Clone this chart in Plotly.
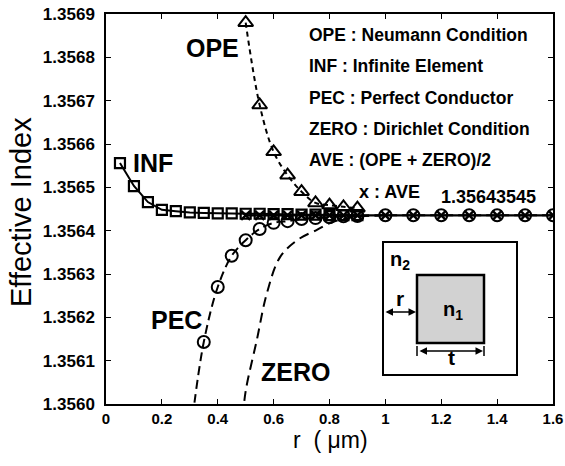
import plotly.graph_objects as go

# ---------------- data ----------------
inf_r = [0.05, 0.10, 0.15, 0.20, 0.25, 0.30, 0.35, 0.40, 0.45, 0.50, 0.55, 0.60,
         0.65, 0.70, 0.75, 0.80, 0.85, 0.90]
inf_n = [1.356556, 1.356503, 1.356466, 1.356448, 1.356445, 1.356442, 1.356441,
         1.356440, 1.356440, 1.356439, 1.356439, 1.356438, 1.356438, 1.356437,
         1.356437, 1.356436, 1.356436, 1.356436]

ope_r = [0.50, 0.55, 0.60, 0.65, 0.70, 0.75, 0.80, 0.85, 0.90]
ope_n = [1.356880, 1.356690, 1.356582, 1.356528, 1.356490, 1.356464, 1.356459,
         1.356455, 1.356452]

pec_line_r = [0.31, 0.35, 0.40, 0.45, 0.50, 0.55, 0.60, 0.65, 0.70, 0.75, 0.80,
              0.85, 0.90, 1.0, 1.1, 1.2, 1.3, 1.4, 1.5, 1.6]
pec_line_n = [1.355970, 1.356143, 1.356270, 1.356342, 1.356378, 1.356404, 1.356418,
              1.356422, 1.356427, 1.356429, 1.356431, 1.356433, 1.356434, 1.3564355,
              1.3564355, 1.3564355, 1.3564355, 1.3564355, 1.3564355, 1.3564355]

zero_r = [0.49, 0.50, 0.54, 0.576, 0.623, 0.684, 0.755, 0.81, 0.90, 1.0]
zero_n = [1.355970, 1.356030, 1.356148, 1.356256, 1.356339, 1.356378, 1.356402,
          1.356420, 1.356432, 1.3564355]

ave_r = [0.50, 0.55, 0.60, 0.65, 0.70, 0.75, 0.80, 0.85, 0.90,
         1.0, 1.1, 1.2, 1.3, 1.4, 1.5, 1.6]
ave_n = [1.3564355] * len(ave_r)

x_ticks = [0, 0.2, 0.4, 0.6, 0.8, 1.0, 1.2, 1.4, 1.6]
x_tick_text = ["0", "0.2", "0.4", "0.6", "0.8", "1", "1.2", "1.4", "1.6"]
y_ticks = [1.3560, 1.3561, 1.3562, 1.3563, 1.3564, 1.3565, 1.3566, 1.3567, 1.3568, 1.3569]

legend_lines = ["OPE : Neumann Condition", "INF : Infinite Element",
                "PEC : Perfect Conductor", "ZERO : Dirichlet Condition",
                "AVE : (OPE + ZERO)/2"]

FONT = "Liberation Sans, Arial, sans-serif"
BLACK = "black"

fig = go.Figure()

# ZERO dash line
fig.add_trace(go.Scatter(x=zero_r, y=zero_n, mode="lines", line_shape="spline",
                         line=dict(color=BLACK, width=2, dash="10px,6px"),
                         hoverinfo="skip"))
# PEC
fig.add_trace(go.Scatter(x=pec_line_r, y=pec_line_n, mode="lines+markers", line_shape="spline",
                         line=dict(color=BLACK, width=2, dash="9px,5px"),
                         marker=dict(symbol="circle-open", size=12, color=BLACK,
                                     line=dict(width=2, color=BLACK)),
                         hoverinfo="skip"))
# OPE
fig.add_trace(go.Scatter(x=ope_r, y=ope_n, mode="lines+markers", line_shape="spline",
                         line=dict(color=BLACK, width=2, dash="5px,4px"),
                         marker=dict(symbol="triangle-up-open", size=13, color=BLACK,
                                     line=dict(width=2, color=BLACK)),
                         hoverinfo="skip"))
# AVE
fig.add_trace(go.Scatter(x=ave_r, y=ave_n, mode="lines+markers",
                         line=dict(color=BLACK, width=2.2),
                         marker=dict(symbol="x-thin-open", size=9, color=BLACK,
                                     line=dict(width=2.4, color=BLACK)),
                         hoverinfo="skip"))
# INF
fig.add_trace(go.Scatter(x=inf_r, y=inf_n, mode="lines+markers",
                         line=dict(color=BLACK, width=2),
                         marker=dict(symbol="square-open", size=10, color=BLACK,
                                     line=dict(width=2.2, color=BLACK)),
                         hoverinfo="skip"))

# ---------- layout helpers (pixel -> paper) ----------
L, R, T, B = 106, 553, 14, 404
def px(xp):
    return (xp - L) / (R - L)
def py(yp):
    return (B - yp) / (B - T)

ann = []
def label(text, x, y, size, bold=True, xanchor="center", angle=0):
    ann.append(dict(text=f"<b>{text}</b>" if bold else text, x=px(x), y=py(y),
                    xref="paper", yref="paper", showarrow=False, xanchor=xanchor,
                    yanchor="middle", textangle=angle,
                    font=dict(family=FONT, size=size, color=BLACK)))

label("OPE", 212, 48, 25)
label("INF", 153, 163, 25)
label("PEC", 176, 320, 25)
label("ZERO", 295, 372, 25)
for i, t in enumerate(legend_lines):
    label(t, 307, 35 + i * 31.3, 17.5, xanchor="left")
label("x : AVE", 357, 192, 18, xanchor="left")
label("1.35643545", 439, 197, 18, xanchor="left")

# inset labels
label("n<sub>2</sub>", 400, 260, 20)
label("r", 400, 298, 21)
label("n<sub>1</sub>", 453, 310, 20)
label("t", 451, 357, 21)

# axis titles
label("Effective Index", 21, 212, 29, bold=False, angle=-90)
label("r  ( \u03bcm)", 330, 440, 23, bold=False)

# arrows in inset (data coords)
def dx(xp):
    return (xp - L) / (R - L) * 1.6
def dy(yp):
    return 1.3560 + (B - yp) / (B - T) * 0.0009

for (x0, x1, yy) in [(384, 416, 312), (418, 483, 351)]:
    ann.append(dict(x=dx(x1), y=dy(yy), ax=dx(x0), ay=dy(yy), xref="x", yref="y",
                    axref="x", ayref="y", text="", showarrow=True, arrowhead=2,
                    arrowside="end+start", arrowsize=1, arrowwidth=1.5, arrowcolor=BLACK))

shapes = [
    dict(type="rect", xref="paper", yref="paper", x0=px(383), x1=px(517), y0=py(375), y1=py(242),
         line=dict(color=BLACK, width=2), fillcolor="white", layer="above"),
    dict(type="rect", xref="paper", yref="paper", x0=px(417), x1=px(484), y0=py(343), y1=py(275),
         line=dict(color=BLACK, width=2.5), fillcolor="#d2d2d2", layer="above"),
    dict(type="line", xref="paper", yref="paper", x0=px(417), x1=px(417), y0=py(346), y1=py(356),
         line=dict(color=BLACK, width=1.5)),
    dict(type="line", xref="paper", yref="paper", x0=px(484), x1=px(484), y0=py(346), y1=py(356),
         line=dict(color=BLACK, width=1.5)),
]

fig.update_layout(
    width=565, height=466,
    margin=dict(l=L, r=565 - R, t=T, b=466 - B, pad=0, autoexpand=False),
    paper_bgcolor="white", plot_bgcolor="white",
    showlegend=False,
    annotations=ann, shapes=shapes,
    xaxis=dict(range=[0, 1.6], tickvals=x_ticks, ticktext=x_tick_text, automargin=False,
               ticks="inside", ticklen=5, tickwidth=1.2, tickcolor=BLACK,
               showline=True, linecolor=BLACK, linewidth=1.5, mirror="ticks",
               showgrid=False, zeroline=False,
               tickfont=dict(family=FONT, size=15, color=BLACK, weight="bold")),
    yaxis=dict(range=[1.3560, 1.3569], tickvals=y_ticks, tickformat=".4f", automargin=False,
               ticks="inside", ticklen=5, tickwidth=1.2, tickcolor=BLACK,
               showline=True, linecolor=BLACK, linewidth=1.5, mirror="ticks",
               showgrid=False, zeroline=False, ticklabelstandoff=6,
               tickfont=dict(family=FONT, size=17, color=BLACK, weight="bold")),
)

fig.write_html("out.html", config={"displayModeBar": False},
               post_script="document.body.style.margin='0';document.body.style.overflow='hidden';")
